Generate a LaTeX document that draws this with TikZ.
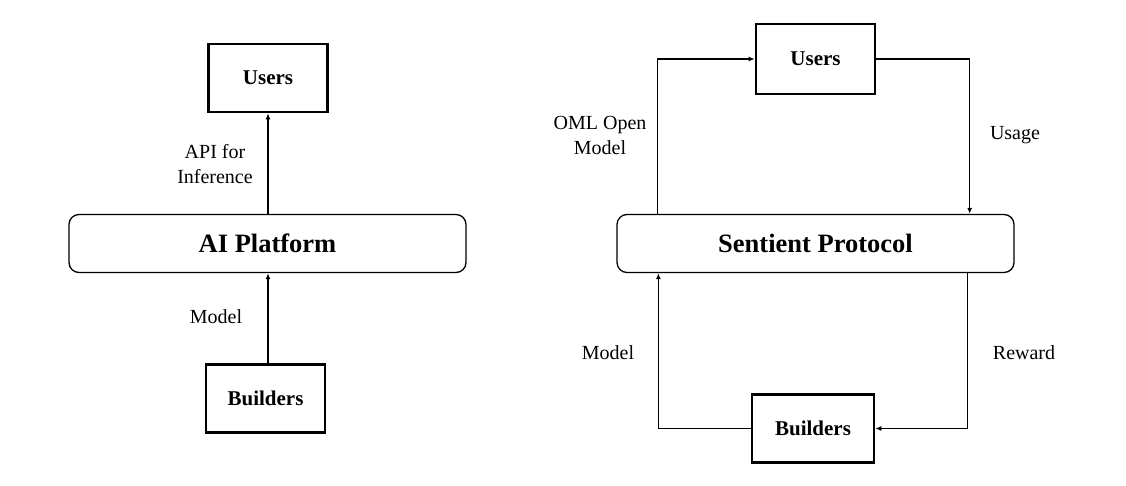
\documentclass[tikz,border=0pt]{standalone}
\usepackage{fontspec}
\setmainfont{Liberation Serif}
\usepackage{tikz}
\usetikzlibrary{arrows.meta,positioning,calc}

\tikzset{
  actorbox/.style={draw=black, line width=2.6pt, minimum width=119pt, minimum height=68pt,
    font=\fontsize{21}{25}\selectfont\bfseries},
  platbox/.style={draw=black, line width=1.3pt, rounded corners=10pt, minimum width=397pt,
    minimum height=58pt, font=\fontsize{26.5}{30}\selectfont\bfseries},
  flowlbl/.style={align=center, font=\fontsize{20}{25}\selectfont},
  flow/.style={line width=1.4pt, -{Latex[length=6pt,width=5pt]}},
  plain/.style={line width=1.4pt}
}

\begin{document}
\begin{tikzpicture}[x=1pt, y=-1pt]
    \useasboundingbox[fill=white] (0,0) rectangle (1126,486);

    % Left: classic AI platform
    \node[actorbox] (lusers) at (268,78) {Users};
    \node[platbox] (lplat) at (267.5,243.5) {AI Platform};
    \node[actorbox] (lbuild) at (265.5,398.5) {Builders};

    \draw[flow] (lusers.south |- lplat.north) -- (lusers.south);
    \draw[flow] (lusers.south |- lbuild.north) -- (lusers.south |- lplat.south);

    \node[flowlbl] (lapi) at (215,164.5) {API for\\Inference};
    \node[flowlbl] (lmodel) at (216,317) {Model};

    % Right: Sentient loop
    \node[actorbox, minimum height=70pt] (rusers) at (815.5,59) {Users};
    \node[platbox] (rplat) at (815.5,243.5) {Sentient Protocol};
    \node[actorbox, minimum width=122pt] (rbuild) at (813,428.5) {Builders};

    \draw[flow] ([xshift=41pt]rplat.north west) |- (rusers.west);
    \draw[flow] (rusers.east) -| ([xshift=-45pt]rplat.north east);
    \draw[flow] ([xshift=-47pt]rplat.south east) |- (rbuild.east);
    \draw[flow] (rbuild.west) -| ([xshift=42pt]rplat.south west);

    \node[flowlbl] (roml) at (600,135) {OML Open\\Model};
    \node[flowlbl] (rusage) at (1015,135) {Usage};
    \node[flowlbl] (rmodel) at (608,353) {Model};
    \node[flowlbl] (rreward) at (1024,353) {Reward};
\end{tikzpicture}
\end{document}
